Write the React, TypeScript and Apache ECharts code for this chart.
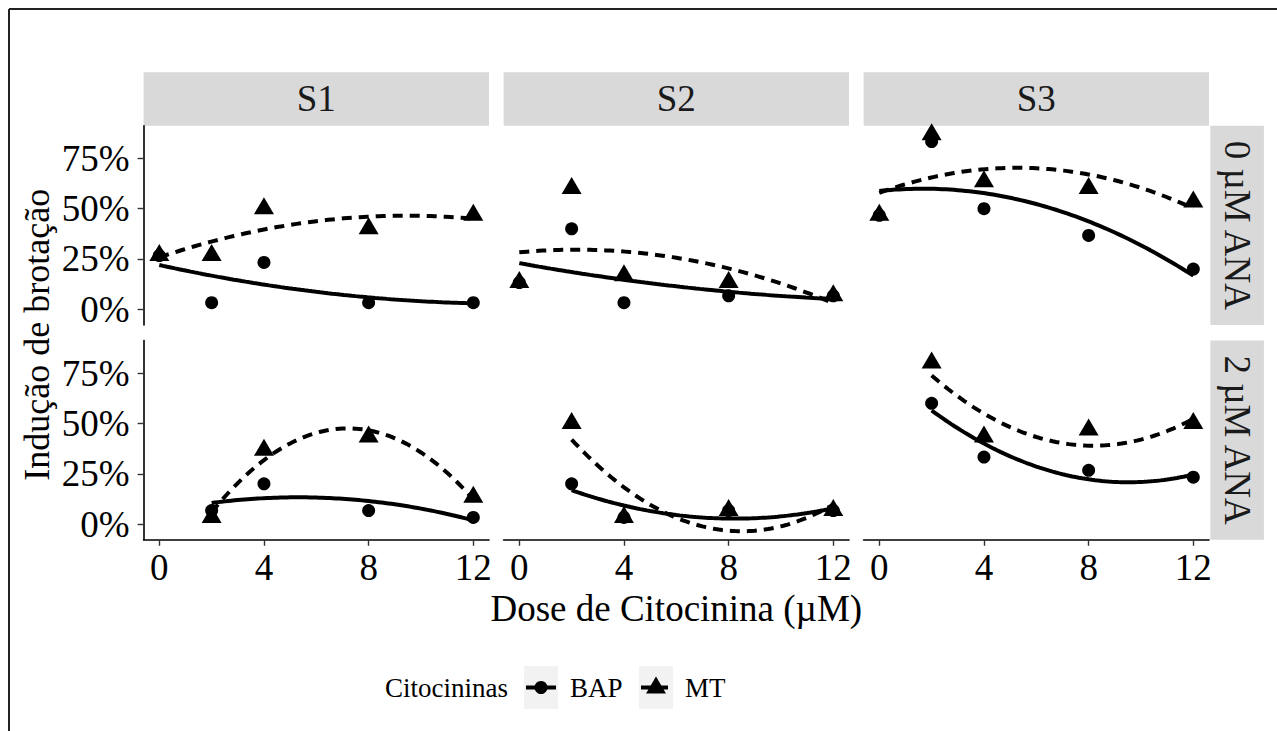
import React, { useEffect, useRef } from "react";
import * as echarts from "echarts";

// ---------- data ----------
const doses = [0, 2, 4, 8, 12];
const sites = ["S1", "S2", "S3"];
const anaLevels = ["0 µM ANA", "2 µM ANA"];
const yTicks = [0, 0.25, 0.5, 0.75];
const xTicks = [0, 4, 8, 12];

// 0 µM ANA
const s1_0_BAP = [0.267, 0.033, 0.233, 0.033, 0.033];
const s1_0_MT = [0.267, 0.267, 0.5, 0.4, 0.467];
const s2_0_BAP = [0.133, 0.4, 0.033, 0.067, 0.067];
const s2_0_MT = [0.133, 0.6, 0.167, 0.133, 0.067];
const s3_0_BAP = [0.467, 0.833, 0.5, 0.367, 0.2];
const s3_0_MT = [0.467, 0.867, 0.633, 0.6, 0.533];
// 2 µM ANA
const s1_2_BAP = [null, 0.067, 0.2, 0.067, 0.033];
const s1_2_MT = [null, 0.033, 0.367, 0.433, 0.133];
const s2_2_BAP = [null, 0.2, 0.033, 0.067, 0.067];
const s2_2_MT = [null, 0.5, 0.033, 0.067, 0.067];
const s3_2_BAP = [null, 0.6, 0.333, 0.267, 0.233];
const s3_2_MT = [null, 0.8, 0.433, 0.467, 0.5];

const BAP = [
  [s1_0_BAP, s2_0_BAP, s3_0_BAP],
  [s1_2_BAP, s2_2_BAP, s3_2_BAP],
];
const MT = [
  [s1_0_MT, s2_0_MT, s3_0_MT],
  [s1_2_MT, s2_2_MT, s3_2_MT],
];

// ---------- quadratic least-squares fit (geom_smooth lm y ~ poly(x,2)) ----------
function quadFit(xs: number[], ys: (number | null)[]) {
  const px: number[] = [];
  const py: number[] = [];
  xs.forEach((x, i) => {
    if (ys[i] !== null && ys[i] !== undefined) {
      px.push(x);
      py.push(ys[i] as number);
    }
  });
  let s0 = 0, s1 = 0, s2 = 0, s3 = 0, s4 = 0, t0 = 0, t1 = 0, t2 = 0;
  for (let i = 0; i < px.length; i++) {
    const x = px[i], y = py[i];
    s0 += 1; s1 += x; s2 += x * x; s3 += x * x * x; s4 += x * x * x * x;
    t0 += y; t1 += x * y; t2 += x * x * y;
  }
  const M = [
    [s0, s1, s2, t0],
    [s1, s2, s3, t1],
    [s2, s3, s4, t2],
  ];
  for (let c = 0; c < 3; c++) {
    let p = c;
    for (let r = c + 1; r < 3; r++) if (Math.abs(M[r][c]) > Math.abs(M[p][c])) p = r;
    [M[c], M[p]] = [M[p], M[c]];
    for (let r = 0; r < 3; r++) {
      if (r === c) continue;
      const f = M[r][c] / M[c][c];
      for (let k = c; k < 4; k++) M[r][k] -= f * M[c][k];
    }
  }
  const a = M[0][3] / M[0][0], b = M[1][3] / M[1][1], cc = M[2][3] / M[2][2];
  const xmin = Math.min(...px), xmax = Math.max(...px);
  const out: number[][] = [];
  const n = 80;
  for (let i = 0; i <= n; i++) {
    const x = xmin + ((xmax - xmin) * i) / n;
    out.push([x, a + b * x + cc * x * x]);
  }
  return out;
}

// ---------- layout ----------
const FONT = "Liberation Serif";
const FS = 37;
const LFS = 27;
const LW = 4;
const colLeft = [143.6, 503.6, 863.6];
const colW = 345.4;
const rowTop = [125.7, 340.5];
const rowH = 199.3;
const stripH = 53.5;

export default function App() {
  const ref = useRef<HTMLDivElement>(null);
  useEffect(() => {
    if (!ref.current) return;
    const chart = echarts.init(ref.current, null, { renderer: "svg" });

    const grids: any[] = [];
    const xAxes: any[] = [];
    const yAxes: any[] = [];
    const series: any[] = [];
    const graphics: any[] = [];

    let gi = 0;
    for (let r = 0; r < 2; r++) {
      for (let c = 0; c < 3; c++) {
        grids.push({ left: colLeft[c], top: rowTop[r], width: colW, height: rowH, containLabel: false });
        const showX = r === 1;
        const showY = c === 0;
        xAxes.push({
          gridIndex: gi,
          type: "value",
          min: -0.6,
          max: 12.6,
          axisLine: { show: showX, onZero: false, lineStyle: { color: "#000", width: 1.6 } },
          axisTick: { show: showX, customValues: xTicks, length: 6, lineStyle: { color: "#333", width: 1.4 } },
          axisLabel: {
            show: showX,
            customValues: xTicks,
            margin: 9,
            color: "#000",
            fontFamily: FONT,
            fontSize: FS,
          },
          splitLine: { show: false },
        });
        yAxes.push({
          gridIndex: gi,
          type: "value",
          min: -0.078,
          max: 0.912,
          axisLine: { show: showY, onZero: false, lineStyle: { color: "#000", width: 1.6 } },
          axisTick: { show: showY, customValues: yTicks, length: 6, lineStyle: { color: "#333", width: 1.4 } },
          axisLabel: {
            show: showY,
            customValues: yTicks,
            margin: 14,
            lineHeight: 30,
            color: "#000",
            fontFamily: FONT,
            fontSize: FS,
            formatter: (v: number) => Math.round(v * 100) + "%",
          },
          splitLine: { show: false },
        });

        const bap = BAP[r][c];
        const mt = MT[r][c];
        series.push({
          type: "scatter",
          name: "BAP",
          xAxisIndex: gi,
          yAxisIndex: gi,
          symbol: "circle",
          symbolSize: 13,
          itemStyle: { color: "#000", opacity: 1 },
          z: 2,
          data: doses.map((d, i) => (bap[i] === null ? null : [d, bap[i]])).filter((p) => p),
        });
        series.push({
          type: "scatter",
          name: "MT",
          xAxisIndex: gi,
          yAxisIndex: gi,
          symbol: "triangle",
          symbolSize: [20, 17],
          symbolOffset: [0, -3],
          itemStyle: { color: "#000", opacity: 1 },
          z: 2,
          data: doses.map((d, i) => (mt[i] === null ? null : [d, mt[i]])).filter((p) => p),
        });
        series.push({
          type: "line",
          name: "BAP fit",
          xAxisIndex: gi,
          yAxisIndex: gi,
          showSymbol: false,
          symbol: "none",
          lineStyle: { color: "#000", width: LW },
          z: 3,
          data: quadFit(doses, bap),
        });
        series.push({
          type: "line",
          name: "MT fit",
          xAxisIndex: gi,
          yAxisIndex: gi,
          showSymbol: false,
          symbol: "none",
          lineStyle: { color: "#000", width: LW, type: [10, 7] },
          z: 3,
          data: quadFit(doses, mt),
        });
        gi++;
      }
    }

    // top strips
    for (let c = 0; c < 3; c++) {
      graphics.push({
        type: "rect",
        shape: { x: colLeft[c], y: rowTop[0] - stripH, width: colW, height: stripH },
        style: { fill: "#D9D9D9" },
      });
      graphics.push({
        type: "text",
        x: colLeft[c] + colW / 2,
        y: rowTop[0] - stripH / 2,
        style: {
          text: sites[c],
          fill: "#1A1A1A",
          font: `${FS}px "${FONT}"`,
          textAlign: "center",
          textVerticalAlign: "middle",
        },
      });
    }
    // right strips
    const rsX = colLeft[2] + colW + 1.4;
    for (let r = 0; r < 2; r++) {
      graphics.push({
        type: "rect",
        shape: { x: rsX, y: rowTop[r], width: stripH, height: rowH },
        style: { fill: "#D9D9D9" },
      });
      graphics.push({
        type: "text",
        x: rsX + stripH / 2,
        y: rowTop[r] + rowH / 2,
        rotation: -Math.PI / 2,
        style: {
          text: anaLevels[r],
          fill: "#1A1A1A",
          font: `${FS}px "${FONT}"`,
          textAlign: "center",
          textVerticalAlign: "middle",
        },
      });
    }
    // axis titles
    graphics.push({
      type: "text",
      x: (colLeft[0] + colLeft[2] + colW) / 2,
      y: 608,
      style: {
        text: "Dose de Citocinina (µM)",
        fill: "#000",
        font: `${FS}px "${FONT}"`,
        textAlign: "center",
        textVerticalAlign: "middle",
      },
    });
    graphics.push({
      type: "text",
      x: 37,
      y: (rowTop[0] + rowTop[1] + rowH) / 2 + 2,
      rotation: Math.PI / 2,
      style: {
        text: "Indução de brotação",
        fill: "#000",
        font: `36px "${FONT}"`,
        textAlign: "center",
        textVerticalAlign: "middle",
      },
    });
    // legend
    const ly = 687.5;
    graphics.push({
      type: "text",
      x: 385,
      y: ly,
      style: { text: "Citocininas", fill: "#000", font: `${LFS}px "${FONT}"`, textAlign: "left", textVerticalAlign: "middle" },
    });
    const keys = [
      { x: 524, label: "BAP", tx: 570, shape: "circle" },
      { x: 639, label: "MT", tx: 685, shape: "triangle" },
    ];
    keys.forEach((k) => {
      graphics.push({ type: "rect", shape: { x: k.x, y: 666, width: 34, height: 43 }, style: { fill: "#F2F2F2" } });
      graphics.push({
        type: "line",
        shape: { x1: k.x + 2, y1: ly, x2: k.x + 32, y2: ly },
        style: { stroke: "#000", lineWidth: LW, lineDash: k.shape === "circle" ? null : [10, 7] },
      });
      if (k.shape === "circle") {
        graphics.push({ type: "circle", shape: { cx: k.x + 17, cy: ly, r: 6.5 }, style: { fill: "#000" } });
      } else {
        graphics.push({
          type: "polygon",
          shape: { points: [[k.x + 17, ly - 11], [k.x + 27, ly + 6], [k.x + 7, ly + 6]] },
          style: { fill: "#000" },
        });
      }
      graphics.push({
        type: "text",
        x: k.tx,
        y: ly,
        style: { text: k.label, fill: "#000", font: `${LFS}px "${FONT}"`, textAlign: "left", textVerticalAlign: "middle" },
      });
    });
    // outer border (top & left)
    graphics.push({ type: "line", shape: { x1: 9, y1: 9, x2: 1277, y2: 9 }, style: { stroke: "#222", lineWidth: 2 } });
    graphics.push({ type: "line", shape: { x1: 9, y1: 9, x2: 9, y2: 731 }, style: { stroke: "#222", lineWidth: 2 } });

    chart.setOption({
      animation: false,
      backgroundColor: "#fff",
      grid: grids,
      xAxis: xAxes,
      yAxis: yAxes,
      series,
      graphic: { elements: graphics },
    });
    return () => chart.dispose();
  }, []);

  return (
    <div
      ref={ref}
      style={{ position: "fixed", left: 0, top: 0, width: 1277, height: 731 }}
    />
  );
}
